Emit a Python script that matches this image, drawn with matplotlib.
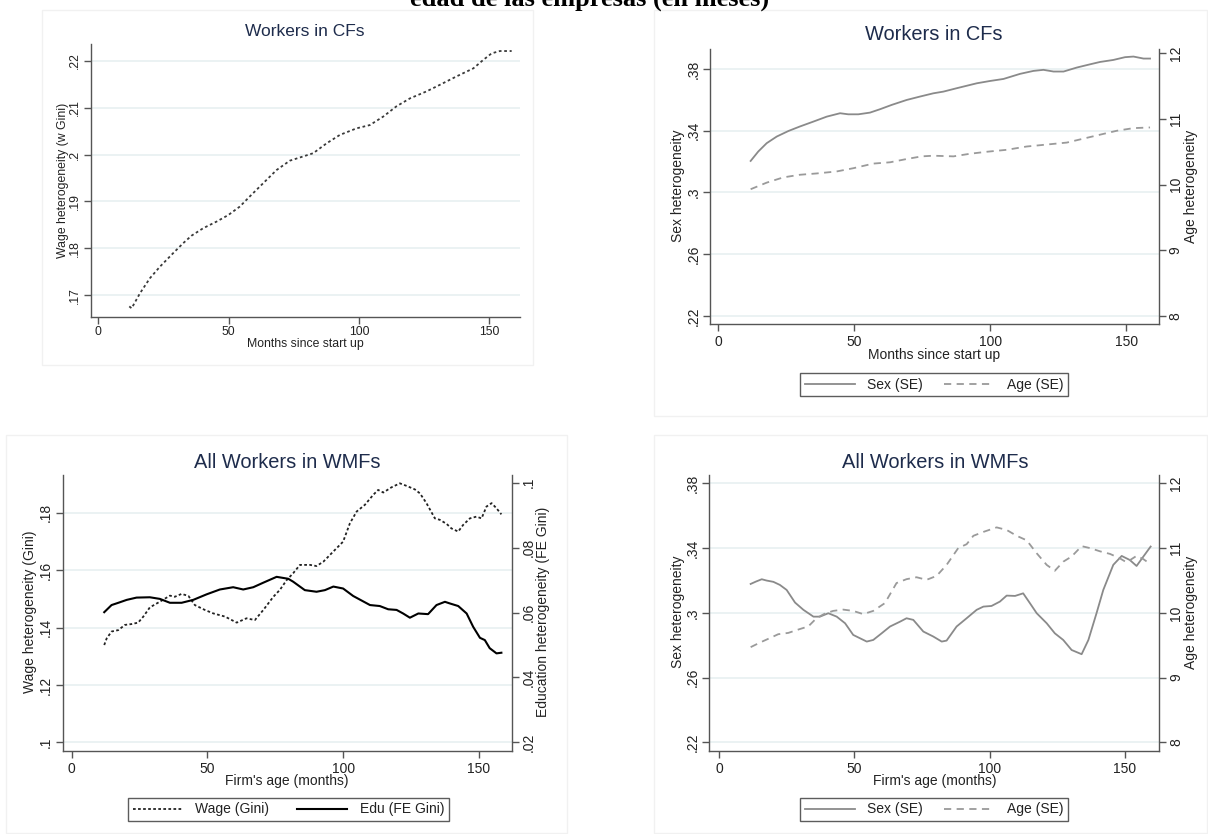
import matplotlib
matplotlib.use("Agg")
import matplotlib.pyplot as plt
from matplotlib.lines import Line2D
from matplotlib.patches import Rectangle

plt.rcParams["font.family"] = ["Liberation Sans", "DejaVu Sans"]

W, H = 1208, 834

# ---- data -------------------------------------------------------------
# Workers in CFs: wage heterogeneity (w Gini)
cf_wage_month = [11.9, 12.8, 16.0, 19.8, 23.7, 28.8, 32.6, 35.8, 40.3, 45.4, 49.9,
                 54.3, 58.2, 63.3, 68.4, 73.5, 78.6, 82.5, 87.6, 92.7, 99.1, 104.2,
                 109.3, 114.4, 119.6, 126.0, 131.1, 137.5, 143.9, 147.7, 150.9,
                 154.1, 158.6]
cf_wage_gini = [.1676, .1672, .1704, .1736, .1761, .1790, .1811, .1827, .1843, .1857,
                .1871, .1889, .1911, .1939, .1967, .1987, .1996, .2003, .2024, .2042,
                .2056, .2063, .2081, .2103, .2120, .2135, .2149, .2167, .2184, .2202,
                .2216, .2221, .2221]

# Workers in CFs: sex (left axis) and age (right axis)
cf_sex_month = [11.9, 14.7, 17.8, 21.5, 25.8, 30.0, 35.0, 39.9, 44.8, 47.8, 51.5,
                55.8, 59.5, 63.8, 69.3, 74.2, 79.1, 82.8, 87.7, 95.1, 100.0, 104.9,
                111.0, 115.9, 119.6, 123.3, 127.0, 131.9, 136.8, 140.4, 145.3,
                149.6, 152.7, 156.4, 158.8]
cf_sex_se = [.3204, .3265, .3319, .3362, .3398, .3427, .3459, .3491, .3513, .3506,
             .3506, .3517, .3539, .3567, .3599, .3621, .3642, .3653, .3675, .3707,
             .3722, .3735, .3768, .3787, .3794, .3783, .3783, .3809, .3830, .3845,
             .3858, .3876, .3880, .3867, .3867]
cf_age_month = [11.9, 17.8, 23.9, 30.0, 36.2, 43.5, 49.7, 57.0, 63.2, 69.3, 74.8,
                79.1, 86.5, 92.6, 98.7, 106.1, 113.4, 120.8, 128.2, 134.3, 140.4,
                146.6, 152.7, 158.8]
cf_age_se = [9.93, 10.03, 10.11, 10.15, 10.17, 10.20, 10.25, 10.32, 10.34, 10.39,
             10.43, 10.44, 10.43, 10.47, 10.50, 10.53, 10.58, 10.61, 10.64, 10.70,
             10.76, 10.82, 10.86, 10.87]

# All workers in WMFs: wage (left axis) and education (right axis)
wmf_wage_month = [12.0, 12.9, 14.7, 17.2, 19.6, 22.1, 24.5, 26.4, 28.8, 32.5, 36.2,
                  38.0, 40.5, 43.0, 45.4, 49.1, 52.2, 56.5, 60.8, 64.4, 67.5, 70.6,
                  74.3, 76.7, 79.2, 81.6, 84.1, 87.8, 90.2, 92.7, 95.7, 100.0, 102.5,
                  105.0, 108.0, 111.1, 112.9, 114.8, 117.8, 120.9, 123.4, 126.4,
                  128.3, 130.7, 133.8, 135.6, 138.1, 139.9, 142.4, 144.2, 146.7,
                  149.1, 151.0, 152.8, 154.7, 156.5, 158.3]
wmf_wage_gini = [.1339, .1362, .1386, .1391, .1409, .1412, .1417, .1438, .1470, .1490,
                 .1511, .1507, .1517, .1510, .1478, .1461, .1449, .1438, .1417, .1432,
                 .1426, .1461, .1507, .1531, .1565, .1589, .1618, .1618, .1614, .1629,
                 .1658, .1699, .1763, .1804, .1827, .1862, .1879, .1870, .1888, .1902,
                 .1893, .1881, .1867, .1833, .1780, .1775, .1761, .1745, .1734, .1757,
                 .1780, .1786, .1780, .1821, .1833, .1815, .1794]
wmf_edu_month = [12.0, 14.7, 17.2, 20.3, 23.9, 28.8, 32.5, 36.2, 40.5, 44.8, 49.7,
                 54.6, 59.5, 63.2, 66.9, 70.6, 75.5, 79.8, 81.6, 85.9, 90.2, 93.3,
                 96.4, 100.0, 103.7, 109.9, 113.5, 116.6, 119.7, 122.1, 124.6, 127.7,
                 131.3, 134.4, 137.5, 139.3, 142.4, 145.5, 147.9, 150.4, 152.2,
                 154.0, 156.5, 158.3]
wmf_edu_gini = [.0601, .0623, .0630, .0639, .0646, .0647, .0642, .0630, .0630, .0639,
                .0656, .0671, .0678, .0671, .0678, .0692, .0710, .0704, .0695, .0669,
                .0664, .0669, .0680, .0674, .0651, .0623, .0620, .0610, .0608, .0597,
                .0584, .0597, .0595, .0623, .0633, .0628, .0620, .0597, .0556, .0522,
                .0515, .0490, .0474, .0476]

# All workers in WMFs: sex (left axis) and age (right axis)
wmf_sex_month = [11.7, 13.7, 15.8, 17.6, 20.1, 22.5, 25.0, 28.1, 31.2, 34.9, 37.3,
                 40.4, 43.5, 46.6, 49.6, 54.6, 57.0, 60.1, 63.2, 66.9, 69.3, 71.8,
                 75.5, 79.2, 82.3, 84.1, 87.8, 91.5, 95.2, 97.7, 100.7, 103.8, 106.3,
                 109.4, 112.4, 114.9, 117.4, 121.1, 124.1, 127.2, 130.3, 134.0,
                 136.5, 139.5, 142.0, 145.7, 148.8, 151.8, 154.3, 156.8, 159.5]
wmf_sex_se = [.3178, .3193, .3207, .3199, .3191, .3172, .3141, .3063, .3018, .2976,
              .2976, .2997, .2976, .2935, .2863, .2822, .2832, .2873, .2915, .2945,
              .2966, .2956, .2884, .2853, .2822, .2828, .2915, .2966, .3018, .3038,
              .3042, .3069, .3106, .3104, .3120, .3059, .2997, .2935, .2873, .2832,
              .2770, .2744, .2832, .2997, .3141, .3296, .3351, .3326, .3289, .3347,
              .3409]
wmf_age_month = [11.7, 15.1, 18.8, 21.9, 25.6, 29.9, 33.0, 36.1, 39.2, 42.2, 45.9,
                 49.6, 53.3, 57.0, 61.3, 65.6, 69.3, 73.0, 76.7, 80.4, 84.1, 88.4,
                 91.5, 94.0, 97.7, 102.6, 106.3, 110.0, 113.7, 117.4, 121.1, 124.1,
                 127.2, 130.3, 134.0, 137.1, 140.8, 144.5, 148.2, 150.6, 154.3,
                 156.8, 159.5]
wmf_age_se = [9.47, 9.54, 9.61, 9.67, 9.69, 9.75, 9.79, 9.92, 9.99, 10.03, 10.05,
              10.03, 9.98, 10.03, 10.15, 10.46, 10.52, 10.55, 10.51, 10.57, 10.74,
              11.00, 11.06, 11.19, 11.25, 11.32, 11.28, 11.19, 11.12, 10.92, 10.74,
              10.65, 10.79, 10.87, 11.03, 11.00, 10.95, 10.91, 10.84, 10.78, 10.88,
              10.83, 10.75]

# axis ticks and labels
x_ticks = [0, 50, 100, 150]
cf_wage_ticks = [.17, .18, .19, .20, .21, .22]
cf_wage_labels = [".17", ".18", ".19", ".2", ".21", ".22"]
sex_ticks = [.22, .26, .30, .34, .38]
sex_labels = [".22", ".26", ".3", ".34", ".38"]
age_ticks = [8, 9, 10, 11, 12]
age_labels = ["8", "9", "10", "11", "12"]
wmf_wage_ticks = [.10, .12, .14, .16, .18]
wmf_wage_labels = [".1", ".12", ".14", ".16", ".18"]
edu_ticks = [.02, .04, .06, .08, .10]
edu_labels = [".02", ".04", ".06", ".08", ".1"]

# ---- styling ----------------------------------------------------------
TITLE_COLOR = "#1e2c4c"
TEXT_COLOR = "#222222"
AXIS_COLOR = "#555555"
GRID_COLOR = "#e8f0f1"
SEX_COLOR = "#8a8a8a"
AGE_COLOR = "#9a9a9a"

fig = plt.figure(figsize=(W / 100, H / 100), dpi=100)
fig.patch.set_facecolor("white")


def fx(x):
    return x / W


def fy(y):
    return 1 - y / H


def panel_box(l, t, r, b):
    fig.add_artist(Rectangle((fx(l), fy(b)), (r - l) / W, (b - t) / H,
                             transform=fig.transFigure, fill=False,
                             edgecolor="#f1f1f1", linewidth=1.0))


def make_axes(l, t, r, b):
    return fig.add_axes([fx(l), fy(b), (r - l) / W, (b - t) / H])


def style_axes(ax, fs, xpad=3):
    for side in ("top", "right"):
        ax.spines[side].set_visible(False)
    for side in ("left", "bottom"):
        ax.spines[side].set_color(AXIS_COLOR)
        ax.spines[side].set_linewidth(1.0)
    ax.tick_params(axis="both", colors=AXIS_COLOR, labelcolor=TEXT_COLOR,
                   labelsize=fs, length=5, width=1.0)
    ax.tick_params(axis="x", pad=xpad)
    ax.tick_params(axis="y", pad=2, labelrotation=90)
    for lab in ax.get_yticklabels():
        lab.set_va("center")
    ax.set_facecolor("none")


def style_twin(ax2, fs):
    for side in ("top", "left", "bottom"):
        ax2.spines[side].set_visible(False)
    ax2.spines["right"].set_color(AXIS_COLOR)
    ax2.spines["right"].set_linewidth(1.0)
    ax2.tick_params(axis="y", colors=AXIS_COLOR, labelcolor=TEXT_COLOR,
                    labelsize=fs, length=5, width=1.0, pad=2, labelrotation=90)
    for lab in ax2.get_yticklabels():
        lab.set_va("center")


def grid(ax, ticks):
    for t in ticks:
        ax.axhline(t, color=GRID_COLOR, linewidth=1.2, zorder=0)


def ftext(x, y, s, fs, color=TEXT_COLOR, rot=0, **kw):
    fig.text(fx(x), fy(y), s, fontsize=fs, color=color, rotation=rot,
             ha="center", va="center", **kw)


# super title, partially cut by the top edge
fig.text(fx(590), fy(6), "edad de las empresas (en meses)", fontsize=19,
         fontweight="bold", family=["Liberation Serif", "DejaVu Serif"],
         ha="center", va="baseline", color="black")

# panel frames
panel_box(42, 10, 533, 365)
panel_box(654, 10, 1207, 416)
panel_box(6, 435, 567, 833)
panel_box(654, 435, 1207, 833)

# ---- top-left: Workers in CFs (wage) ----------------------------------
fs_small = 8.8
ax1 = make_axes(90.7, 44, 520, 316.7)
grid(ax1, cf_wage_ticks)
ax1.plot(cf_wage_month, cf_wage_gini, color="#3a3a3a", linewidth=1.3,
         linestyle=(0, (1.5, 1.5)))
ax1.set_xlim(-2.9, 161.8)
ax1.set_ylim(.1654, .2236)
ax1.set_xticks(x_ticks)
ax1.set_xticklabels([str(t) for t in x_ticks])
ax1.set_yticks(cf_wage_ticks)
ax1.set_yticklabels(cf_wage_labels)
style_axes(ax1, fs_small, xpad=1.5)
ftext(305, 32, "Workers in CFs", 12.5, color=TITLE_COLOR)
ftext(305, 344, "Months since start up", fs_small)
ftext(63, 180, "Wage heterogeneity (w Gini)", fs_small, rot=90)

# ---- top-right: Workers in CFs (sex / age) ----------------------------
fs = 10
ax2 = make_axes(710, 49.3, 1159, 324)
grid(ax2, sex_ticks)
ax2.plot(cf_sex_month, cf_sex_se, color=SEX_COLOR, linewidth=1.3)
ax2.set_xlim(-3.05, 162.1)
ax2.set_ylim(.2148, .3927)
ax2.set_xticks(x_ticks)
ax2.set_xticklabels([str(t) for t in x_ticks])
ax2.set_yticks(sex_ticks)
ax2.set_yticklabels(sex_labels)
style_axes(ax2, fs)
ax2b = ax2.twinx()
ax2b.plot(cf_age_month, cf_age_se, color=AGE_COLOR, linewidth=1.3,
          linestyle=(0, (4, 3)))
ax2b.set_ylim(7.878, 12.06)
ax2b.set_yticks(age_ticks)
ax2b.set_yticklabels(age_labels)
style_twin(ax2b, fs)
ftext(934, 35, "Workers in CFs", 14.4, color=TITLE_COLOR)
ftext(934, 355, "Months since start up", fs)
ftext(678, 186, "Sex heterogeneity", fs, rot=90)
ftext(1191, 186, "Age heterogeneity", fs, rot=90)

sex_handle = Line2D([], [], color=SEX_COLOR, linewidth=1.3)
age_handle = Line2D([], [], color=AGE_COLOR, linewidth=1.3, linestyle=(0, (4, 3)))


def legend(ax, handles, labels, cx, cy, spacing=1.5):
    leg = ax.legend(handles, labels, ncol=2, loc="center",
                    bbox_to_anchor=(fx(cx), fy(cy)), bbox_transform=fig.transFigure,
                    frameon=True, fancybox=False, edgecolor="#333333",
                    fontsize=fs, handlelength=3.6, handletextpad=0.9,
                    columnspacing=spacing, borderpad=0.35, borderaxespad=0)
    leg.get_frame().set_linewidth(1.0)
    for t in leg.get_texts():
        t.set_color(TEXT_COLOR)
    return leg


legend(ax2b, [sex_handle, age_handle], ["Sex (SE)", "Age (SE)"], 934, 384.5)

# ---- bottom-left: All Workers in WMFs (wage / education) --------------
ax3 = make_axes(62.7, 475, 511.7, 751)
grid(ax3, wmf_wage_ticks)
ax3.plot(wmf_wage_month, wmf_wage_gini, color="#222222", linewidth=1.3,
         linestyle=(0, (1.5, 1.3)))
ax3.set_xlim(-3.3, 162.1)
ax3.set_ylim(.097, .1931)
ax3.set_xticks(x_ticks)
ax3.set_xticklabels([str(t) for t in x_ticks])
ax3.set_yticks(wmf_wage_ticks)
ax3.set_yticklabels(wmf_wage_labels)
style_axes(ax3, fs)
ax3b = ax3.twinx()
ax3b.plot(wmf_edu_month, wmf_edu_gini, color="black", linewidth=1.5)
ax3b.set_ylim(.0173, .1024)
ax3b.set_yticks(edu_ticks)
ax3b.set_yticklabels(edu_labels)
style_twin(ax3b, fs)
ftext(287, 462, "All Workers in WMFs", 14.4, color=TITLE_COLOR)
ftext(287, 781, "Firm's age (months)", fs)
ftext(30, 612, "Wage heterogeneity (Gini)", fs, rot=90)
ftext(543, 612, "Education heterogeneity (FE Gini)", fs, rot=90)

wage_handle = Line2D([], [], color="#222222", linewidth=1.3, linestyle=(0, (1.5, 1.3)))
edu_handle = Line2D([], [], color="black", linewidth=1.5)
legend(ax3b, [wage_handle, edu_handle], ["Wage (Gini)", "Edu (FE Gini)"], 288.5, 809.5,
       spacing=2.0)

# ---- bottom-right: All Workers in WMFs (sex / age) --------------------
ax4 = make_axes(709.3, 475, 1159.3, 751)
grid(ax4, sex_ticks)
ax4.plot(wmf_sex_month, wmf_sex_se, color=SEX_COLOR, linewidth=1.3)
ax4.set_xlim(-3.58, 162.7)
ax4.set_ylim(.2146, .3851)
ax4.set_xticks(x_ticks)
ax4.set_xticklabels([str(t) for t in x_ticks])
ax4.set_yticks(sex_ticks)
ax4.set_yticklabels(sex_labels)
style_axes(ax4, fs)
ax4b = ax4.twinx()
ax4b.plot(wmf_age_month, wmf_age_se, color=AGE_COLOR, linewidth=1.3,
          linestyle=(0, (4, 3)))
ax4b.set_ylim(7.866, 12.129)
ax4b.set_yticks(age_ticks)
ax4b.set_yticklabels(age_labels)
style_twin(ax4b, fs)
ftext(935, 462, "All Workers in WMFs", 14.4, color=TITLE_COLOR)
ftext(935, 781, "Firm's age (months)", fs)
ftext(678, 612, "Sex heterogeneity", fs, rot=90)
ftext(1191, 612, "Age heterogeneity", fs, rot=90)
legend(ax4b, [sex_handle, age_handle], ["Sex (SE)", "Age (SE)"], 934, 809.5)

fig.savefig("out.png", dpi=100, facecolor="white")
